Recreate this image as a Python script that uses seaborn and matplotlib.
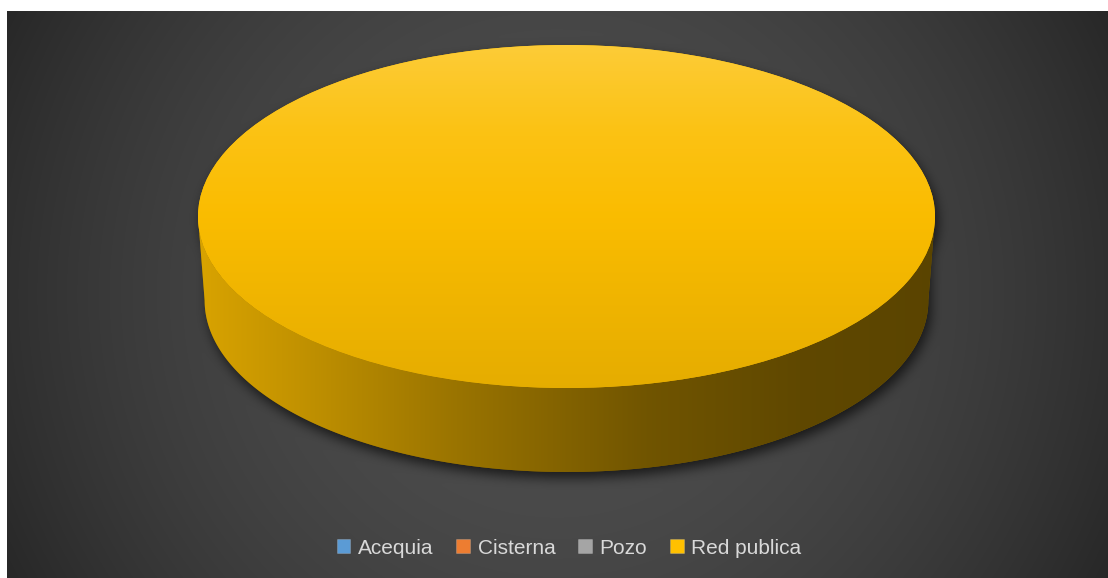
import numpy as np
import matplotlib
matplotlib.use("Agg")
import matplotlib.pyplot as plt
import seaborn as sns
from matplotlib.patches import Polygon
from matplotlib.colors import to_rgb

# ---- data ----
categories = ["Acequia", "Cisterna", "Pozo", "Red publica"]
values = [0, 0, 0, 100]
colors = ["#5B9BD5", "#ED7D31", "#A5A5A5", "#FFC000"]

sns.set_theme(style="white")
plt.rcParams['font.family'] = ['Liberation Sans', 'DejaVu Sans']

W, H = 1108, 578
fig = plt.figure(figsize=(W / 100, H / 100), dpi=100, facecolor='white')
ax = fig.add_axes([0, 0, 1, 1])

# geometry of the 3D pie (pixels)
cx, cy, a, b, depth = 566.5, 216.5, 368.5, 171.5, 84.0
narrow = 0.982  # slight perspective: bottom rim a bit narrower
def dx(px):
    return (px - cx) / a
def dy(py):
    return (cy - py) / b
d = depth / b

# ---- background with radial gradient and pie shadow ----
bx0, by0 = 7, 11
yy, xx = np.mgrid[by0:H, bx0:W].astype(float) + 0.5
r2 = (xx - 557) ** 2 + (yy - 294) ** 2
val = np.clip(78 - 1.0e-4 * r2, 38, 80) / 255.0

# shadow: silhouette of the cylinder, offset and blurred
sx, sy = xx - 3, yy - 6
m = (((sx - cx) / a) ** 2 + ((sy - cy) / b) ** 2 <= 1) | \
    (((sx - cx) / (a * narrow)) ** 2 + ((sy - cy - depth) / b) ** 2 <= 1) | \
    ((np.abs(sx - cx) <= a * narrow) & (sy >= cy) & (sy <= cy + depth))
m = m.astype(float)
k = np.exp(-0.5 * (np.arange(-18, 19) / 6.0) ** 2)
k /= k.sum()
pad = 18
mp = np.pad(m, pad)
acc = np.zeros_like(mp)
for i, w in enumerate(k):
    acc += w * np.roll(mp, i - pad, axis=1)
acc2 = np.zeros_like(acc)
for i, w in enumerate(k):
    acc2 += w * np.roll(acc, i - pad, axis=0)
blur = acc2[pad:-pad, pad:-pad]
val = val * (1 - 0.65 * blur)
bg = np.dstack([val, val, val])
ax.imshow(bg, extent=(dx(bx0), dx(W), dy(H), dy(by0)), origin='upper',
          aspect='auto', zorder=0, interpolation='bilinear')

# ---- pie top face ----
wedges, _ = ax.pie(values, colors=colors, startangle=90, counterclock=False,
                   radius=1, center=(0, 0),
                   wedgeprops=dict(linewidth=0, zorder=3))

# side stops (pixel x, brightness factor)
side_px = np.array([198, 300, 450, 566, 650, 800, 935])
side_f = np.array([0.85, 0.76, 0.61, 0.51, 0.44, 0.375, 0.355])
# top face stops (pixel y)
top_py = np.array([45, 130, 216, 300, 388])

for wdg, col in zip(wedges, colors):
    if abs(wdg.theta2 - wdg.theta1) < 1e-9:
        continue
    base = np.array(to_rgb(col))
    th1, th2 = wdg.theta1, wdg.theta2
    for kk in (-1, 0, 1):
        s = max(th1, 180 + 360 * kk)
        e = min(th2, 360 + 360 * kk)
        if e - s <= 0:
            continue
        t = np.radians(np.linspace(s, e, 300))
        top = np.column_stack([np.cos(t), np.sin(t)])
        bot = np.column_stack([np.cos(t) * narrow, np.sin(t) - d])[::-1]
        poly = Polygon(np.vstack([top, bot]), closed=True,
                       facecolor=base * 0.5, edgecolor='none', zorder=2)
        ax.add_patch(poly)
        xs = np.linspace(cx - a, cx + a, 800)
        f = np.interp(xs, side_px, side_f)
        img = (base[None, None, :] * f[None, :, None]).repeat(2, axis=0)
        img = np.clip(img, 0, 1)
        im = ax.imshow(img, extent=(-1, 1, -1 - d, 0.1), aspect='auto',
                       zorder=2.5, interpolation='bilinear')
        im.set_clip_path(poly)
    # top gradient
    ys = np.linspace(cy - b, cy + b, 400)
    white = np.array([1.0, 1.0, 1.0])
    top_cols = np.array([
        base * 0.99 * 0.78 + white * 0.22 * 0.99,
        base * 0.985 * 0.92 + white * 0.08,
        base * 0.98,
        base * 0.94,
        base * 0.90,
    ])
    tc = np.column_stack([np.interp(ys, top_py, top_cols[:, c]) for c in range(3)])
    timg = np.clip(tc[:, None, :].repeat(2, axis=1), 0, 1)
    im2 = ax.imshow(timg, extent=(-1, 1, -1, 1), origin='upper', aspect='auto',
                    zorder=3.5, interpolation='bilinear')
    im2.set_clip_path(wdg)

ax.set_xlim(dx(0), dx(W))
ax.set_ylim(dy(H), dy(0))
ax.set_aspect('auto')
ax.axis('off')

# ---- legend ----
leg = ax.legend(wedges, categories, loc='center',
                bbox_to_anchor=(569 / W, 1 - 548 / H),
                bbox_transform=fig.transFigure, ncol=4, frameon=False,
                fontsize=15, handlelength=0.66, handleheight=0.66,
                handletextpad=0.36, columnspacing=1.1,
                labelcolor='#D9D9D9')
for hnd in leg.legend_handles:
    hnd.set_edgecolor((1, 1, 1, 0.25))
    hnd.set_linewidth(0.5)
leg.set_zorder(10)

fig.savefig('out.png', dpi=100, facecolor='white')
